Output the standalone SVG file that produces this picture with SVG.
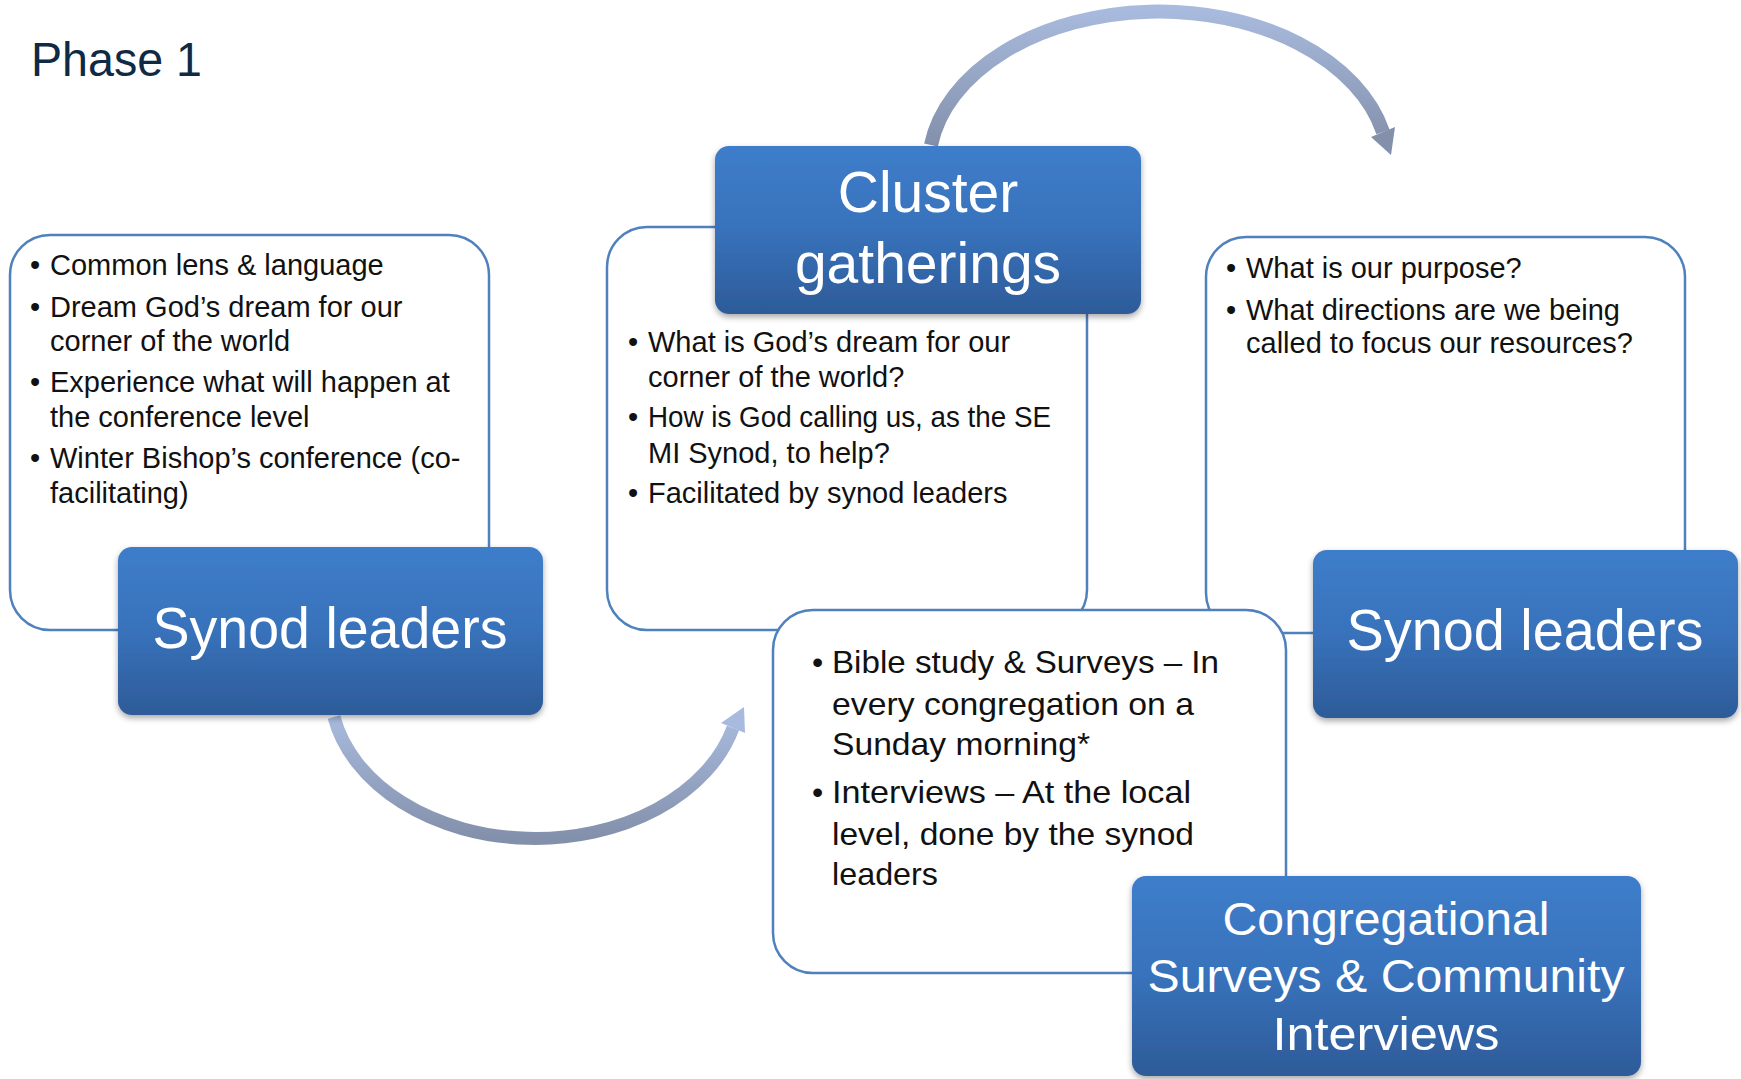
<svg xmlns="http://www.w3.org/2000/svg" width="1741" height="1079" viewBox="0 0 1741 1079">
<defs>
<linearGradient id="blueGrad" x1="0" y1="0" x2="0" y2="1">
<stop offset="0" stop-color="#3e7dca"/>
<stop offset="0.5" stop-color="#3872bb"/>
<stop offset="1" stop-color="#2d5b98"/>
</linearGradient>
<linearGradient id="arcGrad" x1="0" y1="0" x2="0" y2="1">
<stop offset="0" stop-color="#a8badd"/>
<stop offset="1" stop-color="#8390ab"/>
</linearGradient>
<filter id="shadow" x="-10%" y="-10%" width="120%" height="130%">
<feDropShadow dx="0" dy="3" stdDeviation="3" flood-color="#000" flood-opacity="0.35"/>
</filter>
</defs>
<style>
.card{fill:#ffffff;stroke:#4f81bd;stroke-width:2.5}
.head{fill:url(#blueGrad);filter:url(#shadow)}
.ht{font-family:"Liberation Sans",Arial,sans-serif;fill:#ffffff;text-anchor:middle}
.bt{font-family:"Liberation Sans",Arial,sans-serif;fill:#111111;font-size:29px}
.bt2{font-family:"Liberation Sans",Arial,sans-serif;fill:#111111;font-size:32px}
.arc{fill:none;stroke:url(#arcGrad)}
</style>
<rect width="1741" height="1079" fill="#ffffff"/>
<text x="31" y="76" font-family="Liberation Sans, Arial, sans-serif" font-size="48" fill="#0e2a44" textLength="171" lengthAdjust="spacingAndGlyphs">Phase 1</text>

<g id="connectors">
<path class="arc" stroke-width="14" d="M931,145 A230,155 0 0 1 1383,132"/>
<polygon points="1395,127 1371,137 1391,155" fill="#8390ab"/>
<path class="arc" stroke-width="13" d="M334,717 A205,150 0 0 0 733,728"/>
<polygon points="745,733 721,723 744,707" fill="#a8badd"/>
</g>

<g id="card-left">
<rect class="card" x="10" y="235" width="479" height="395" rx="40"/>
<text class="bt" x="30" y="275">•</text><text class="bt" x="50" y="275">Common lens &amp; language</text>
<text class="bt" x="30" y="317">•</text><text class="bt" x="50" y="317">Dream God’s dream for our</text>
<text class="bt" x="50" y="351">corner of the world</text>
<text class="bt" x="30" y="392">•</text><text class="bt" x="50" y="392">Experience what will happen at</text>
<text class="bt" x="50" y="427">the conference level</text>
<text class="bt" x="30" y="468">•</text><text class="bt" x="50" y="468">Winter Bishop’s conference (co-</text>
<text class="bt" x="50" y="503">facilitating)</text>
</g>

<g id="card-middle">
<rect class="card" x="607" y="227" width="480" height="403" rx="40"/>
<text class="bt" x="628" y="352">•</text><text class="bt" x="648" y="352">What is God’s dream for our</text>
<text class="bt" x="648" y="387">corner of the world?</text>
<text class="bt" x="628" y="427">•</text><text class="bt" x="648" y="427" textLength="403" lengthAdjust="spacingAndGlyphs">How is God calling us, as the SE</text>
<text class="bt" x="648" y="463">MI Synod, to help?</text>
<text class="bt" x="628" y="503">•</text><text class="bt" x="648" y="503">Facilitated by synod leaders</text>
</g>

<g id="card-right">
<rect class="card" x="1206" y="237" width="479" height="396" rx="40"/>
<text class="bt" x="1226" y="278">•</text><text class="bt" x="1246" y="278">What is our purpose?</text>
<text class="bt" x="1226" y="320">•</text><text class="bt" x="1246" y="320">What directions are we being</text>
<text class="bt" x="1246" y="353">called to focus our resources?</text>
</g>

<g id="card-bottom">
<rect class="card" x="773" y="610" width="513" height="363" rx="40"/>
<text class="bt2" x="812" y="673">•</text><text class="bt2" x="832" y="673" textLength="387" lengthAdjust="spacingAndGlyphs">Bible study &amp; Surveys – In</text>
<text class="bt2" x="832" y="715" textLength="362" lengthAdjust="spacingAndGlyphs">every congregation on a</text>
<text class="bt2" x="832" y="755" textLength="258" lengthAdjust="spacingAndGlyphs">Sunday morning*</text>
<text class="bt2" x="812" y="803">•</text><text class="bt2" x="832" y="803" textLength="359" lengthAdjust="spacingAndGlyphs">Interviews – At the local</text>
<text class="bt2" x="832" y="845" textLength="362" lengthAdjust="spacingAndGlyphs">level, done by the synod</text>
<text class="bt2" x="832" y="885" textLength="106" lengthAdjust="spacingAndGlyphs">leaders</text>
</g>

<g id="node-cluster">
<rect class="head" x="715" y="146" width="426" height="168" rx="14"/>
<text class="ht" x="928" y="212" font-size="57">Cluster</text>
<text class="ht" x="928" y="283" font-size="57">gatherings</text>
</g>

<g id="node-synod-left">
<rect class="head" x="118" y="547" width="425" height="168" rx="14"/>
<text class="ht" x="330" y="648" font-size="57" textLength="355" lengthAdjust="spacingAndGlyphs">Synod leaders</text>
</g>

<g id="node-synod-right">
<rect class="head" x="1313" y="550" width="425" height="168" rx="14"/>
<text class="ht" x="1525" y="650" font-size="57" textLength="357" lengthAdjust="spacingAndGlyphs">Synod leaders</text>
</g>

<g id="node-congregational">
<rect class="head" x="1132" y="876" width="509" height="200" rx="14"/>
<text class="ht" x="1386" y="935" font-size="46" textLength="327" lengthAdjust="spacingAndGlyphs">Congregational</text>
<text class="ht" x="1386" y="992" font-size="46" textLength="477" lengthAdjust="spacingAndGlyphs">Surveys &amp; Community</text>
<text class="ht" x="1386" y="1050" font-size="46" textLength="227" lengthAdjust="spacingAndGlyphs">Interviews</text>
</g>
</svg>
